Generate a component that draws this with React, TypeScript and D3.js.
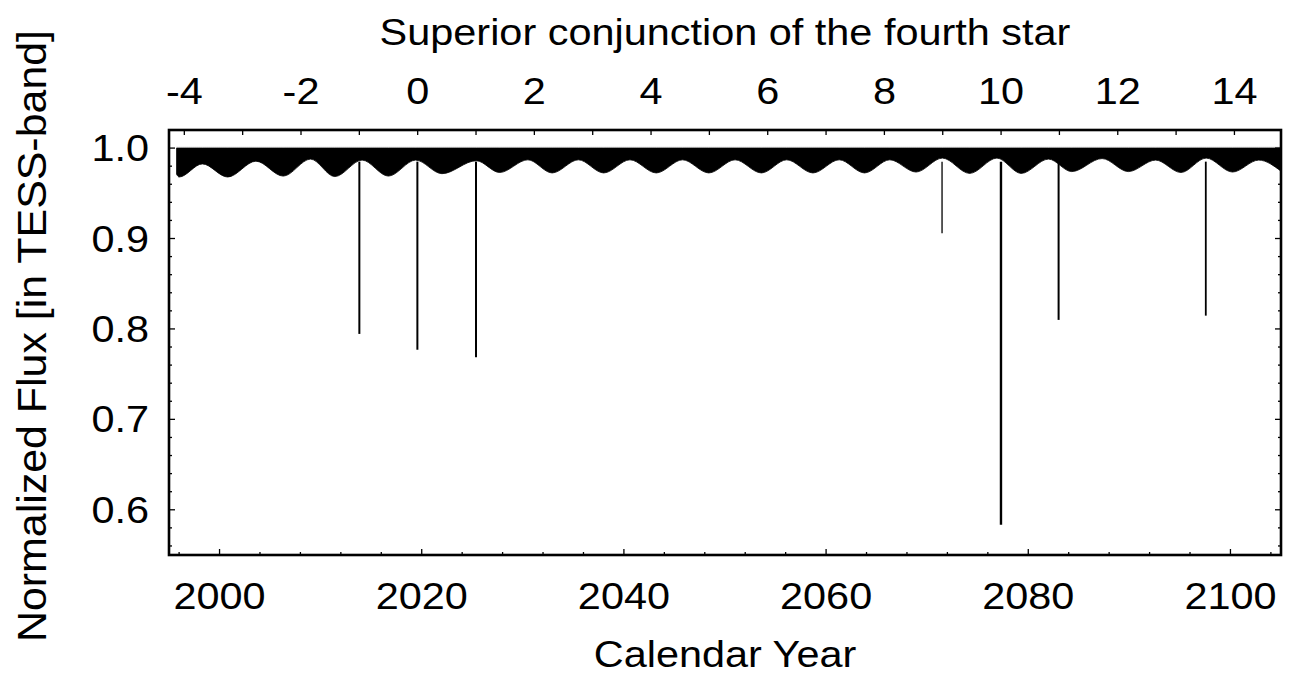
import React from "react";
import * as d3 from "d3";

// ---- data ----
// lower envelope of the dense light-curve band (year, normalized flux)
const envYears = [
  1995.75, 1996.0, 1998.3, 2000.8, 2003.6, 2006.3, 2009.0, 2011.4, 2014.1, 2016.7, 2019.4,
  2022.0, 2025.4, 2027.7, 2030.5, 2032.9, 2035.5, 2038.0, 2040.6, 2043.2, 2045.8, 2048.4,
  2051.0, 2053.6, 2056.1, 2058.7, 2061.3, 2063.8, 2066.3, 2068.9, 2071.5, 2074.2, 2076.9,
  2079.3, 2082.0, 2084.3, 2087.3, 2089.9, 2092.6, 2095.1, 2097.6, 2100.2, 2102.8, 2105.0,
];
const envFlux = [
  0.971, 0.968, 0.9825, 0.968, 0.9855, 0.969, 0.9878, 0.9685, 0.9867, 0.969, 0.9867,
  0.9717, 0.986, 0.973, 0.987, 0.9725, 0.987, 0.9725, 0.987, 0.9725, 0.987, 0.9725,
  0.987, 0.9725, 0.987, 0.9725, 0.987, 0.9725, 0.987, 0.9735, 0.9889, 0.972, 0.9889,
  0.972, 0.9878, 0.974, 0.9884, 0.974, 0.9867, 0.973, 0.9889, 0.9735, 0.9867, 0.9745,
];
// eclipse events (year, minimum flux)
const dipYears = [2013.83, 2019.57, 2025.37, 2071.47, 2077.3, 2083.0, 2097.56];
const dipFlux = [0.7945, 0.777, 0.7687, 0.9057, 0.5834, 0.81, 0.8147];
const dipWidths = [2, 2, 2, 1.3, 2.4, 2, 1.8];

const bottomTicks = [2000, 2020, 2040, 2060, 2080, 2100];
const yTicks = [0.6, 0.7, 0.8, 0.9, 1.0];
const topTicks = [-4, -2, 0, 2, 4, 6, 8, 10, 12, 14];
const conjEpoch = 2019.6; // conjunction 0 (year)
const conjPeriod = 5.771; // years

const W = 1293;
const H = 679;
const FONT = "'Liberation Sans', Arial, Helvetica, sans-serif";
const FS = 37;
const SX = 1.12;

function HText({ x, y, anchor = "middle", children }: any) {
  return (
    <text
      transform={`translate(${x},${y}) scale(${SX},1)`}
      textAnchor={anchor}
      fontFamily={FONT}
      fontSize={FS}
      fill="#000"
    >
      {children}
    </text>
  );
}

export default function App() {
  const x = d3.scaleLinear().domain([1995, 2105]).range([169, 1281]);
  const y = d3.scaleLinear().domain([0.55, 1.02]).range([555, 130]);
  const xTop = d3
    .scaleLinear()
    .domain([(1995 - conjEpoch) / conjPeriod, (2105 - conjEpoch) / conjPeriod])
    .range([169, 1281]);

  const env = envYears.map((yr, i) => [yr, envFlux[i]] as [number, number]);
  const area = d3
    .area<[number, number]>()
    .x((d) => x(d[0]))
    .y0(() => y(1.0))
    .y1((d) => y(d[1]))
    .curve(d3.curveMonotoneX);

  const minorX = d3.range(1996, 2105, 4).filter((v) => v % 20 !== 0);
  const minorY = d3.range(0.56, 1.02, 0.02).filter((v) => Math.abs(v * 10 - Math.round(v * 10)) > 1e-6);
  const topMinor = d3.range(-4, 15, 1);

  const left = 169, right = 1281, top = 130, bottom = 555;

  return (
    <svg
      width={W}
      height={H}
      style={{ position: "absolute", left: 0, top: 0, background: "#fff" }}
    >
      <rect x={0} y={0} width={W} height={H} fill="#fff" />
      <defs>
        <clipPath id="plot">
          <rect x={left} y={top} width={right - left} height={bottom - top} />
        </clipPath>
      </defs>

      <g clipPath="url(#plot)">
        <line x1={x(1995.75)} x2={x(2105)} y1={y(1.001)} y2={y(1.001)} stroke="#bbb" strokeWidth={1} strokeDasharray="1 1" />
        <path d={area(env) || ""} fill="#000" stroke="#000" strokeWidth={0.8} />
        {dipYears.map((yr, i) => (
          <line
            key={i}
            x1={x(yr)}
            x2={x(yr)}
            y1={y(0.985)}
            y2={y(dipFlux[i])}
            stroke="#000"
            strokeWidth={dipWidths[i]}
          />
        ))}
      </g>

      {/* ticks */}
      <g stroke="#000" strokeWidth={1.3}>
        {bottomTicks.map((t) => (
          <line key={"bm" + t} x1={x(t)} x2={x(t)} y1={bottom} y2={bottom - 6} />
        ))}
        {minorX.map((t) => (
          <line key={"bn" + t} x1={x(t)} x2={x(t)} y1={bottom} y2={bottom - 3} />
        ))}
        {yTicks.map((t) => (
          <g key={"ym" + t}>
            <line x1={left} x2={left + 6} y1={y(t)} y2={y(t)} />
            <line x1={right} x2={right - 6} y1={y(t)} y2={y(t)} />
          </g>
        ))}
        {minorY.map((t, i) => (
          <g key={"yn" + i}>
            <line x1={left} x2={left + 3} y1={y(t)} y2={y(t)} />
            <line x1={right} x2={right - 3} y1={y(t)} y2={y(t)} />
          </g>
        ))}
        {topMinor.map((t) => (
          <line key={"t" + t} x1={xTop(t)} x2={xTop(t)} y1={top} y2={top + 5} />
        ))}
      </g>

      <rect x={left} y={top} width={right - left} height={bottom - top} fill="none" stroke="#000" strokeWidth={2.6} />

      {/* tick labels */}
      {bottomTicks.map((t) => (
        <HText key={"bl" + t} x={x(t)} y={609}>
          {String(t)}
        </HText>
      ))}
      {yTicks.map((t) => (
        <HText key={"yl" + t} x={149} y={y(t) + 13} anchor="end">
          {t.toFixed(1)}
        </HText>
      ))}
      {topTicks.map((t) => (
        <HText key={"tl" + t} x={xTop(t)} y={104}>
          {String(t)}
        </HText>
      ))}

      <HText x={725} y={45}>Superior conjunction of the fourth star</HText>
      <HText x={725} y={667}>Calendar Year</HText>
      <text
        transform={`translate(46,${336}) rotate(-90) scale(1.16,${SX})`}
        textAnchor="middle"
        fontFamily={FONT}
        fontSize={FS}
        fill="#000"
      >
        Normalized Flux [in TESS-band]
      </text>
    </svg>
  );
}
